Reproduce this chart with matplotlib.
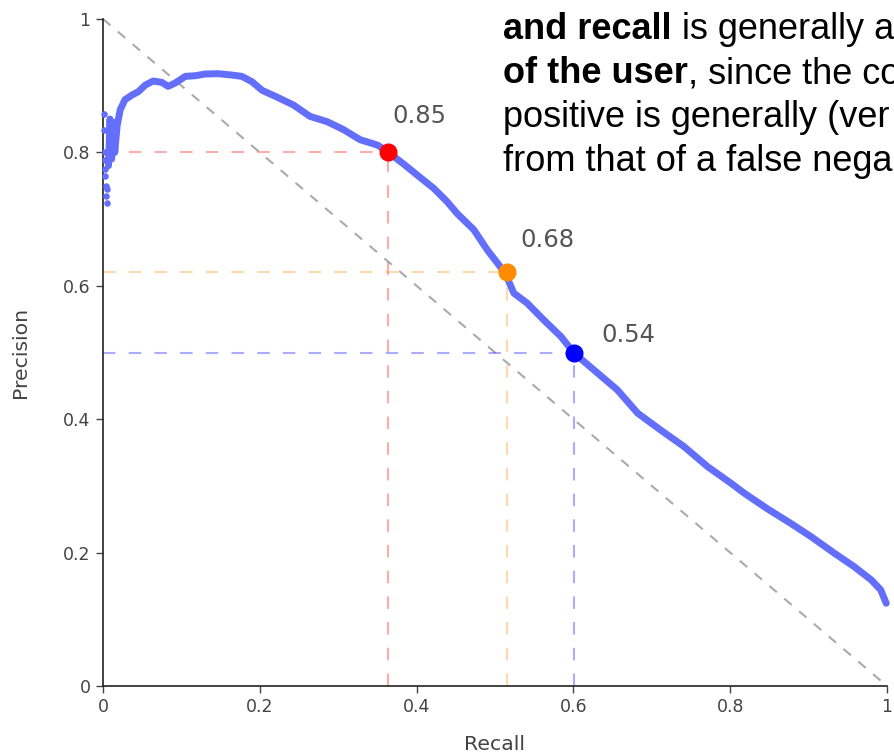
import matplotlib
matplotlib.use("Agg")
import matplotlib.pyplot as plt

plt.rcParams['lines.scale_dashes'] = False

# ---- data ----
recall_start = [0.001, 0.001, 0.002, 0.002, 0.003, 0.003, 0.004, 0.004, 0.005, 0.005, 0.006]
precision_start = [0.858, 0.834, 0.80, 0.789, 0.775, 0.764, 0.75, 0.734, 0.724, 0.745, 0.79]

recall = [0.007, 0.009, 0.011, 0.013, 0.015, 0.018, 0.022, 0.028, 0.037, 0.045,
          0.054, 0.064, 0.075, 0.083, 0.092, 0.105, 0.118, 0.130, 0.147, 0.164,
          0.177, 0.190, 0.203, 0.220, 0.243, 0.264, 0.286, 0.307, 0.328, 0.350,
          0.362, 0.384, 0.405, 0.422, 0.439, 0.452, 0.473, 0.490, 0.513, 0.524,
          0.541, 0.562, 0.584, 0.601, 0.626, 0.656, 0.682, 0.711, 0.741, 0.771,
          0.801, 0.818, 0.847, 0.877, 0.903, 0.933, 0.958, 0.980, 0.992, 0.999]
precision = [0.78, 0.85, 0.79, 0.845, 0.80, 0.84, 0.864, 0.879, 0.886, 0.891,
             0.901, 0.907, 0.905, 0.899, 0.904, 0.914, 0.915, 0.9175, 0.918, 0.916,
             0.914, 0.906, 0.893, 0.884, 0.871, 0.854, 0.846, 0.834, 0.819, 0.811,
             0.802, 0.782, 0.762, 0.746, 0.726, 0.708, 0.684, 0.654, 0.619, 0.589,
             0.574, 0.549, 0.524, 0.499, 0.474, 0.444, 0.409, 0.384, 0.359, 0.329,
             0.304, 0.289, 0.266, 0.244, 0.224, 0.199, 0.179, 0.159, 0.144, 0.124]

thr_recall = [0.363, 0.515, 0.601]
thr_precision = [0.80, 0.62, 0.50]
thr_labels = ["0.85", "0.68", "0.54"]
thr_colors = ["#ff0000", "#ff8c00", "#0000ff"]
thr_offsets = [(32, 36), (41, 32), (54, 17)]  # pixel offsets of label centres

x_ticks = [0, 0.2, 0.4, 0.6, 0.8, 1]
x_ticklabels = ["0", "0.2", "0.4", "0.6", "0.8", "1"]
y_ticks = [0, 0.2, 0.4, 0.6, 0.8, 1]
y_ticklabels = ["0", "0.2", "0.4", "0.6", "0.8", "1"]

overlay_lines = [
    ("and recall", " is generally a"),
    ("of the user", ", since the co"),
    ("", "positive is generally (ver"),
    ("", "from that of a false nega"),
]

# ---- figure ----
W, H = 894, 756
fig = plt.figure(figsize=(W / 100, H / 100), dpi=100)
ax = fig.add_axes([103 / W, 1 - 686 / H, (887 - 103) / W, (686 - 19) / H])
ax.set_xlim(0, 1)
ax.set_ylim(0, 1)

curve_color = "#636efa"
# diagonal
ax.plot([0, 1], [1, 0], color="#aaaaaa", lw=1.5, linestyle=(0, (7, 7)), zorder=1, clip_on=False)

# guides
for xr, yp, c in zip(thr_recall, thr_precision, thr_colors):
    ax.plot([0, xr], [yp, yp], color=c, alpha=0.33, lw=1.5, linestyle=(0, (9, 9.5)), zorder=1)
    ax.plot([xr, xr], [0, yp], color=c, alpha=0.33, lw=1.5, linestyle=(0, (9, 9.5)), zorder=1)

# curve
ax.scatter(recall_start, precision_start, s=22, color=curve_color, zorder=3, clip_on=False, linewidths=0)
ax.plot(recall, precision, color=curve_color, lw=5, zorder=3, solid_joinstyle="round",
        solid_capstyle="round", clip_on=False)

# threshold points + labels
for xr, yp, c, lab, off in zip(thr_recall, thr_precision, thr_colors, thr_labels, thr_offsets):
    ax.plot([xr], [yp], marker="o", ms=12, color=c, zorder=4, clip_on=False, mec=c)
    ax.annotate(lab, xy=(xr, yp), xytext=off, textcoords="offset pixels",
                ha="center", va="center", fontsize=17.5, color="#555555", zorder=5)

# axes style
for s in ["top", "right"]:
    ax.spines[s].set_visible(False)
for s in ["left", "bottom"]:
    ax.spines[s].set_color("#222222")
    ax.spines[s].set_linewidth(1.2)
ax.set_xticks(x_ticks)
ax.set_xticklabels(x_ticklabels)
ax.set_yticks(y_ticks)
ax.set_yticklabels(y_ticklabels)
ax.tick_params(axis="both", direction="out", length=5, width=1, color="#444444",
               labelcolor="#444444", labelsize=12.5, pad=4)
ax.set_xlabel("Recall", fontsize=14.7, color="#444444")
ax.xaxis.set_label_coords(0.5, (686 - 750) / 667)
ax.xaxis.label.set_va("baseline")
ax.set_ylabel("Precision", fontsize=14.7, color="#444444")
ax.yaxis.set_label_coords((21 - 103) / 784, 0.5)
ax.yaxis.label.set_va("center")

# overlay slide text (cut at the right edge, as in the reference)
x0 = 503 / W
baselines = [39, 83, 127, 171]
fs = 26
for (bold, regular), b in zip(overlay_lines, baselines):
    y = 1 - b / H
    if bold:
        t = fig.text(x0, y, bold, fontsize=fs, fontweight="bold", family="Liberation Sans",
                     color="black", ha="left", va="baseline")
        fig.canvas.draw()
        bb = t.get_window_extent()
        fig.text(bb.x1 / W, y, regular, fontsize=fs, family="Liberation Sans",
                 color="black", ha="left", va="baseline")
    else:
        fig.text(x0, y, regular, fontsize=fs, family="Liberation Sans",
                 color="black", ha="left", va="baseline")

fig.savefig("out.png", dpi=100)
